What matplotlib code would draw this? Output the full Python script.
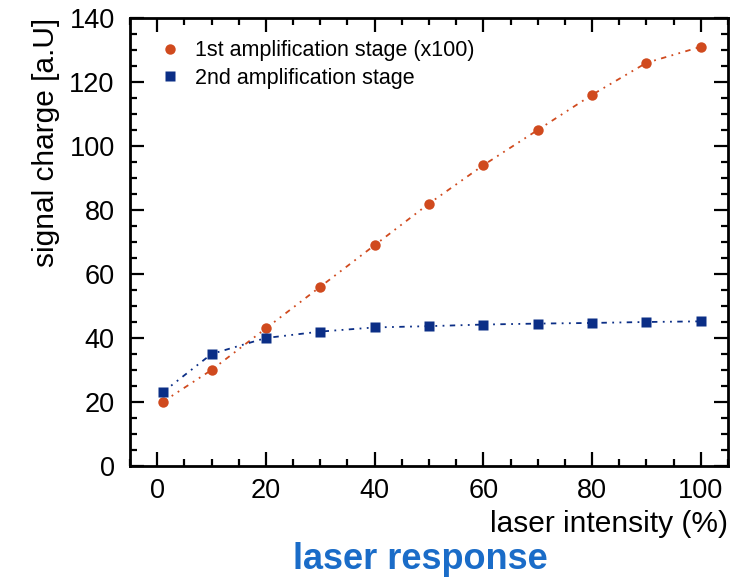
import matplotlib.pyplot as plt
from matplotlib.ticker import MultipleLocator

plt.rcParams['font.family'] = ['Liberation Sans', 'DejaVu Sans']

intensity = [1, 10, 20, 30, 40, 50, 60, 70, 80, 90, 100]
stage1 = [20, 30, 43, 56, 69, 82, 94, 105, 116, 126, 131]
stage2 = [23, 35, 40, 42, 43.3, 43.7, 44.2, 44.5, 44.7, 45, 45.2]

orange = '#D04A1E'
blue = '#0B2E86'
dashdotdot = (0, (3, 3, 1, 3, 1, 3))

fig = plt.figure(figsize=(7.44, 5.79), dpi=100)
ax = fig.add_axes([0.1747, 0.1952, 0.8038, 0.7737])

ax.plot(intensity, stage1, color=orange, lw=1.3, ls=dashdotdot)
ax.plot(intensity, stage2, color=blue, lw=1.3, ls=dashdotdot)
ax.plot(intensity, stage1, 'o', color=orange, ms=7.5, mec='none',
        label='1st amplification stage (x100)')
ax.plot(intensity, stage2, 's', color=blue, ms=7, mec='none',
        label='2nd amplification stage')

ax.set_xlim(-5, 105)
ax.set_ylim(0, 140)
ax.xaxis.set_major_locator(MultipleLocator(20))
ax.xaxis.set_minor_locator(MultipleLocator(5))
ax.yaxis.set_major_locator(MultipleLocator(20))
ax.yaxis.set_minor_locator(MultipleLocator(5))
ax.tick_params(which='both', direction='in', top=True, right=True,
               labelsize=19.5, width=1.6)
ax.tick_params(which='major', length=10)
ax.tick_params(which='minor', length=5)
ax.tick_params(axis='x', which='major', pad=9)
ax.tick_params(axis='y', which='major', pad=11)
for s in ax.spines.values():
    s.set_linewidth(2)

ax.set_ylabel('signal charge [a.U]', fontsize=21.5, loc='top', labelpad=7)
ax.set_xlabel('laser intensity (%)', fontsize=21.5, loc='right', labelpad=4)

ax.legend(loc='upper left', frameon=False, fontsize=15.5, handlelength=0.8,
          handletextpad=0.77, borderaxespad=0, labelspacing=0.3,
          bbox_to_anchor=(0.038, 0.97))

fig.text(0.565, 0.017, 'laser response', color='#1A6CC8', fontsize=26,
         fontweight='bold', ha='center', va='baseline')

fig.savefig('out.png', dpi=100)
